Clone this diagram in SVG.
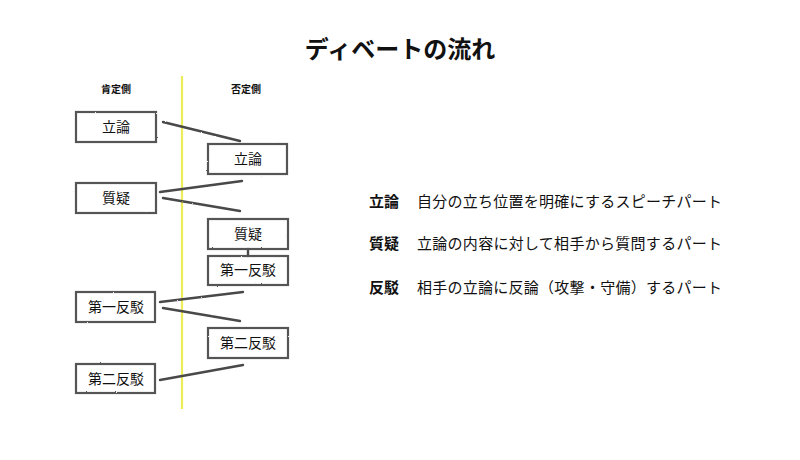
<svg xmlns="http://www.w3.org/2000/svg" width="800" height="460" viewBox="0 0 800 460">
<defs>
<filter id="rough" x="-5%" y="-10%" width="110%" height="120%">
<feTurbulence type="fractalNoise" baseFrequency="0.8" numOctaves="2" seed="3" result="n"/>
<feDisplacementMap in="SourceGraphic" in2="n" scale="1.6" xChannelSelector="R" yChannelSelector="G"/>
</filter>
<style>
text{font-family:"Noto Sans CJK JP","Noto Sans CJK SC",sans-serif;fill:#111;}
.box{fill:none;stroke:#555;stroke-width:2.2;}
.bl{font-size:14px;text-anchor:middle;}
.side{font-size:10px;font-weight:bold;text-anchor:middle;}
.con{stroke:#484848;stroke-width:2.4;fill:none;stroke-linecap:round;}
.term{font-size:15px;font-weight:bold;}
.desc{font-size:15px;}
</style>
</defs>
<rect width="800" height="460" fill="#fff"/>
<text x="400" y="58" font-size="24" font-weight="bold" text-anchor="middle">ディベートの流れ</text>
<line x1="182" y1="76" x2="182" y2="409" stroke="#eded5a" stroke-width="2.2"/>
<text class="side" x="116" y="93">肯定側</text>
<text class="side" x="246" y="93">否定側</text>
<g id="connectors" filter="url(#rough)">
<line class="con" x1="163" y1="122" x2="240" y2="141"/>
<line class="con" x1="160" y1="192" x2="242" y2="181"/>
<line class="con" x1="163" y1="198" x2="240" y2="211"/>
<line class="con" x1="248" y1="249" x2="248" y2="256" stroke-width="2"/>
<line class="con" x1="160" y1="302" x2="243" y2="292"/>
<line class="con" x1="163" y1="308" x2="240" y2="321"/>
<line class="con" x1="160" y1="380" x2="243" y2="365"/>
</g>
<g id="aff-rittei"><rect class="box" filter="url(#rough)" x="76" y="112" width="80" height="30"/><text class="bl" x="116" y="132">立論</text></g>
<g id="neg-rittei"><rect class="box" filter="url(#rough)" x="208" y="144" width="79" height="30"/><text class="bl" x="248" y="164">立論</text></g>
<g id="aff-shitsugi"><rect class="box" filter="url(#rough)" x="76" y="183" width="80" height="30"/><text class="bl" x="116" y="203">質疑</text></g>
<g id="neg-shitsugi"><rect class="box" filter="url(#rough)" x="208" y="219" width="80" height="30"/><text class="bl" x="248" y="239">質疑</text></g>
<g id="neg-hanbaku1"><rect class="box" filter="url(#rough)" x="208" y="256" width="80" height="29"/><text class="bl" x="248" y="275">第一反駁</text></g>
<g id="aff-hanbaku1"><rect class="box" filter="url(#rough)" x="76" y="292" width="79" height="30"/><text class="bl" x="116" y="312">第一反駁</text></g>
<g id="neg-hanbaku2"><rect class="box" filter="url(#rough)" x="208" y="328" width="80" height="30"/><text class="bl" x="248" y="348">第二反駁</text></g>
<g id="aff-hanbaku2"><rect class="box" filter="url(#rough)" x="76" y="364" width="79" height="29"/><text class="bl" x="116" y="384">第二反駁</text></g>
<g id="legend">
<text class="term" x="369" y="207">立論</text>
<text class="desc" x="417" y="207" textLength="305">自分の立ち位置を明確にするスピーチパート</text>
<text class="term" x="369" y="249">質疑</text>
<text class="desc" x="417" y="249" textLength="305">立論の内容に対して相手から質問するパート</text>
<text class="term" x="369" y="293">反駁</text>
<text class="desc" x="417" y="293" textLength="305">相手の立論に反論（攻撃・守備）するパート</text>
</g>
</svg>
